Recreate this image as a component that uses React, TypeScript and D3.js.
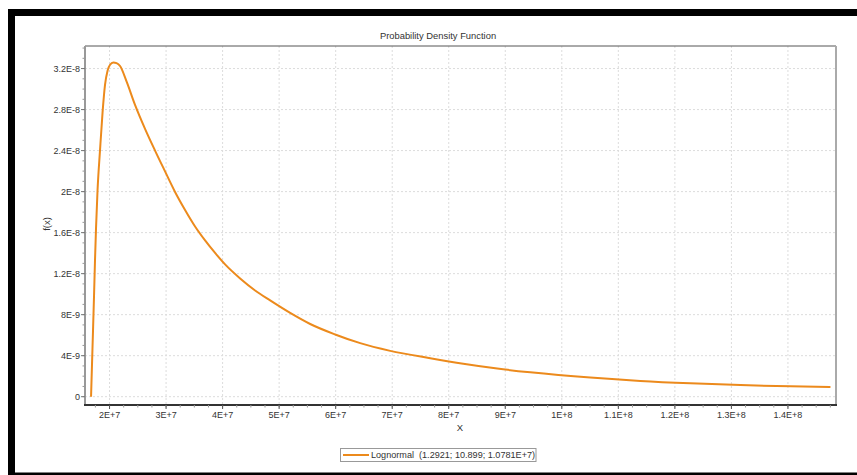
import * as d3 from 'd3';

// curve samples (x, f(x))
const xValues = [
  1.673e7, 1.69e7, 1.708e7, 1.726e7, 1.743e7, 1.761e7, 1.788e7, 1.832e7, 1.876e7, 1.92e7,
  1.965e7, 2.009e7, 2.067e7, 2.124e7, 2.186e7, 2.304e7, 2.451e7, 2.628e7, 2.805e7, 2.982e7, 3.159e7,
  3.336e7, 3.513e7, 3.69e7, 3.867e7, 4.044e7, 4.31e7, 4.575e7, 4.841e7, 5.195e7, 5.549e7,
  5.991e7, 6.434e7, 6.965e7, 7.673e7, 8.257e7, 8.858e7, 9.442e7, 1.0504e8, 1.1389e8,
  1.2274e8, 1.3159e8, 1.4044e8, 1.4752e8,
];
const densityValues = [
  0, 3.17e-9, 6.49e-9, 9.9e-9, 1.332e-8, 1.644e-8, 2.015e-8, 2.407e-8, 2.768e-8, 3.041e-8,
  3.178e-8, 3.237e-8, 3.259e-8, 3.253e-8, 3.225e-8, 3.07e-8, 2.846e-8, 2.612e-8, 2.4e-8, 2.197e-8, 1.997e-8,
  1.821e-8, 1.66e-8, 1.524e-8, 1.402e-8, 1.29e-8, 1.153e-8, 1.036e-8, 9.39e-9, 8.17e-9, 7.09e-9,
  6.07e-9, 5.22e-9, 4.47e-9, 3.75e-9, 3.21e-9, 2.74e-9, 2.38e-9, 1.86e-9, 1.53e-9,
  1.3e-9, 1.13e-9, 1.01e-9, 0.94e-9,
];

const xTicks = [2e7, 3e7, 4e7, 5e7, 6e7, 7e7, 8e7, 9e7, 1e8, 1.1e8, 1.2e8, 1.3e8, 1.4e8];
const xTickLabels = ['2E+7', '3E+7', '4E+7', '5E+7', '6E+7', '7E+7', '8E+7', '9E+7', '1E+8', '1.1E+8', '1.2E+8', '1.3E+8', '1.4E+8'];
const yTicks = [0, 4e-9, 8e-9, 1.2e-8, 1.6e-8, 2e-8, 2.4e-8, 2.8e-8, 3.2e-8];
const yTickLabels = ['0', '4E-9', '8E-9', '1.2E-8', '1.6E-8', '2E-8', '2.4E-8', '2.8E-8', '3.2E-8'];

const title = 'Probability Density Function';
const xLabel = 'X';
const yLabel = 'f(x)';
const legendLabel = 'Lognormal  (1.2921; 10.899; 1.0781E+7)';

const W = 857;
const H = 475;
const plot = { left: 85, right: 836, top: 46, bottom: 405 };
const font = 'Arial, "Liberation Sans", sans-serif';
const curveColor = '#ec8a1c';
const textColor = '#333';

export default function App() {
  const x = d3.scaleLinear().domain([1.566e7, 1.485e8]).range([plot.left, plot.right]);
  const y = d3.scaleLinear().domain([-8.1e-10, 3.42e-8]).range([plot.bottom, plot.top]);

  const points: [number, number][] = xValues.map((v, i) => [v, densityValues[i]]);
  const path = d3
    .line<[number, number]>()
    .x((d) => x(d[0]))
    .y((d) => y(d[1]))
    .curve(d3.curveMonotoneX)(points);

  const xMinor = d3.range(1.75e7, 1.485e8, 2.5e6);
  const yMinor = d3.range(0, 3.42e-8, 1e-9);

  return (
    <svg
      width={W}
      height={H}
      style={{ position: 'absolute', left: 0, top: 0, background: '#fff' }}
      fontFamily={font}
    >
      <rect x={0} y={0} width={W} height={H} fill="#fff" />
      {/* black frame */}
      <rect x={8} y={9} width={W - 8} height={7} fill="#000" />
      <rect x={8} y={9} width={7} height={H - 9} fill="#000" />
      <rect x={8} y={472.5} width={W - 8} height={2.5} fill="#000" />

      <text x={438} y={39} textAnchor="middle" fontSize={9.4} fill={textColor}>
        {title}
      </text>

      {/* grid */}
      <g stroke="#dcdcdc" strokeDasharray="2,2" strokeWidth={1}>
        {xTicks.map((t) => (
          <line key={'gx' + t} x1={x(t)} x2={x(t)} y1={plot.top} y2={plot.bottom} />
        ))}
        {yTicks.map((t) => (
          <line key={'gy' + t} x1={plot.left} x2={plot.right} y1={y(t)} y2={y(t)} />
        ))}
      </g>

      {/* frame */}
      <line x1={plot.left} x2={plot.right} y1={plot.top} y2={plot.top} stroke="#555" strokeWidth={1} />
      <line x1={plot.right} x2={plot.right} y1={plot.top} y2={plot.bottom} stroke="#aaa" strokeWidth={2} />

      <path d={path ?? ''} fill="none" stroke={curveColor} strokeWidth={2} strokeLinejoin="round" />

      {/* y axis */}
      <line x1={plot.left} x2={plot.left} y1={plot.top} y2={plot.bottom + 1} stroke="#999" strokeWidth={2} />
      {yMinor.map((t) => (
        <line key={'ym' + t} x1={plot.left - 2.5} x2={plot.left} y1={y(t)} y2={y(t)} stroke="#999" />
      ))}
      {yTicks.map((t, i) => (
        <g key={'yt' + t}>
          <line x1={plot.left - 4} x2={plot.left} y1={y(t)} y2={y(t)} stroke="#777" />
          <text x={plot.left - 5} y={y(t) + 3.2} textAnchor="end" fontSize={9} fill={textColor}>
            {yTickLabels[i]}
          </text>
        </g>
      ))}
      <text
        transform={`translate(50,224) rotate(-90)`}
        textAnchor="middle"
        fontSize={9.5}
        fill={textColor}
      >
        {yLabel}
      </text>

      {/* x axis */}
      <line x1={plot.left - 1} x2={plot.right + 1} y1={plot.bottom} y2={plot.bottom} stroke="#333" strokeWidth={2} />
      {xMinor.map((t) => (
        <line key={'xm' + t} x1={x(t)} x2={x(t)} y1={plot.bottom} y2={plot.bottom + 2.5} stroke="#999" />
      ))}
      {xTicks.map((t, i) => (
        <g key={'xt' + t}>
          <line x1={x(t)} x2={x(t)} y1={plot.bottom} y2={plot.bottom + 4} stroke="#555" />
          <text x={x(t)} y={418} textAnchor="middle" fontSize={9} fill={textColor}>
            {xTickLabels[i]}
          </text>
        </g>
      ))}
      <text x={460} y={431} textAnchor="middle" fontSize={9.5} fill={textColor}>
        {xLabel}
      </text>

      {/* legend */}
      <rect x={340.5} y={448.5} width={195.5} height={13} fill="#fff" stroke="#999" />
      <line x1={343} x2={369} y1={455} y2={455} stroke={curveColor} strokeWidth={2} />
      <text x={371} y={458.3} fontSize={9.1} fill={textColor} style={{ whiteSpace: 'pre' }}>
        {legendLabel}
      </text>
    </svg>
  );
}
